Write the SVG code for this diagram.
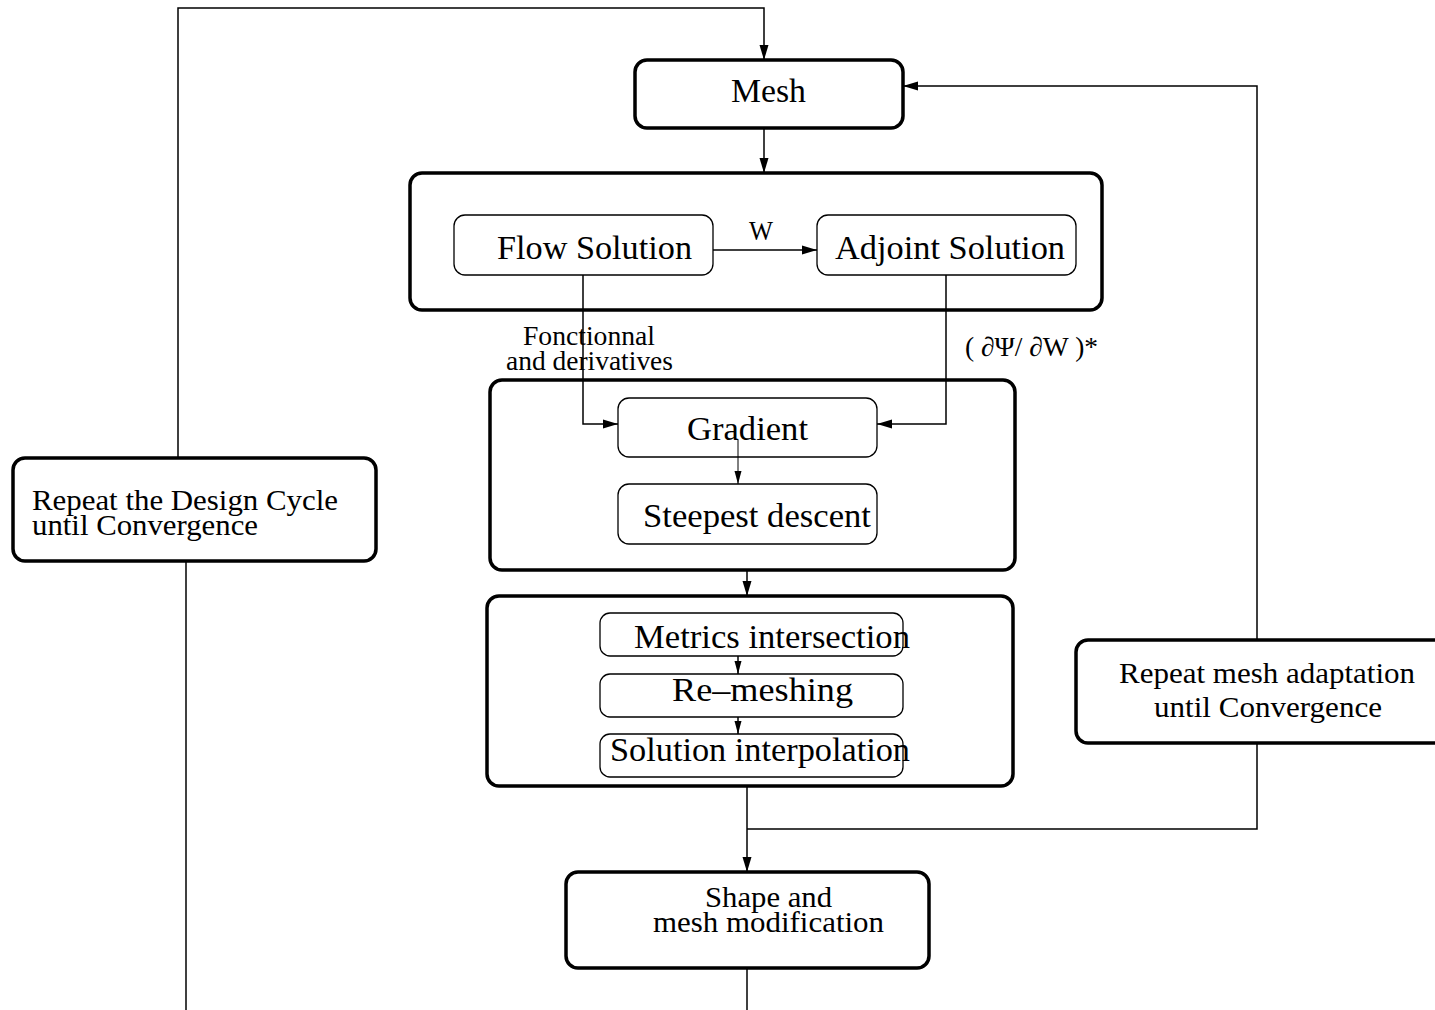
<svg xmlns="http://www.w3.org/2000/svg" width="1435" height="1010" viewBox="0 0 1435 1010">
  <style>
    .bg { fill: #ffffff; }
    .thick { fill: #ffffff; stroke: #000000; stroke-width: 3.5; }
    .thin { fill: #ffffff; stroke: #000000; stroke-width: 1.3; }
    .lbl { font-family: "Liberation Serif", "Times New Roman", serif; font-size: 33px; fill: #000000; }
    .mid { font-family: "Liberation Serif", "Times New Roman", serif; font-size: 30px; fill: #000000; }
    .small { font-family: "Liberation Serif", "Times New Roman", serif; font-size: 27px; fill: #000000; }
    .wire { fill: none; stroke: #000000; stroke-width: 1.5; }
    .wire-thin { fill: none; stroke: #000000; stroke-width: 1; }
  </style>
  <defs>
    <marker id="arrow" markerUnits="userSpaceOnUse" markerWidth="16" markerHeight="10" refX="15" refY="5" orient="auto">
      <path d="M0,0.5 L15,5 L0,9.5 Z" fill="#000000"/>
    </marker>
    <marker id="arrow-small" markerUnits="userSpaceOnUse" markerWidth="14" markerHeight="8" refX="13" refY="4" orient="auto">
      <path d="M0,0.5 L13,4 L0,7.5 Z" fill="#000000"/>
    </marker>
  </defs>
  <rect class="bg" x="0" y="0" width="1435" height="1010"/>

  <!-- process blocks -->
  <g id="mesh">
    <rect class="thick" x="635" y="60" width="268" height="68" rx="12"/>
    <text class="lbl" x="731" y="102" textLength="75" lengthAdjust="spacingAndGlyphs">Mesh</text>
  </g>

  <g id="solver-block">
    <rect class="thick" x="410" y="173" width="692" height="137" rx="12"/>
  </g>
  <g id="flow-solution">
    <rect class="thin" x="454" y="215" width="259" height="60" rx="11"/>
    <text class="lbl" x="497" y="259" textLength="195" lengthAdjust="spacingAndGlyphs">Flow Solution</text>
  </g>
  <g id="adjoint-solution">
    <rect class="thin" x="817" y="215" width="259" height="60" rx="11"/>
    <text class="lbl" x="835" y="259" textLength="230" lengthAdjust="spacingAndGlyphs">Adjoint Solution</text>
  </g>

  <g id="descent-block">
    <rect class="thick" x="490" y="380" width="525" height="190" rx="12"/>
  </g>
  <g id="gradient">
    <rect class="thin" x="618" y="398" width="259" height="59" rx="11"/>
    <text class="lbl" x="687" y="440" textLength="121" lengthAdjust="spacingAndGlyphs">Gradient</text>
  </g>
  <g id="steepest-descent">
    <rect class="thin" x="618" y="484" width="259" height="60" rx="11"/>
    <text class="lbl" x="643" y="527" textLength="228" lengthAdjust="spacingAndGlyphs">Steepest descent</text>
  </g>

  <g id="adaptation-block">
    <rect class="thick" x="487" y="596" width="526" height="190" rx="12"/>
  </g>
  <g id="metrics-intersection">
    <rect class="thin" x="600" y="613" width="303" height="43" rx="10"/>
    <text class="lbl" x="634" y="648" textLength="276" lengthAdjust="spacingAndGlyphs">Metrics intersection</text>
  </g>
  <g id="re-meshing">
    <rect class="thin" x="600" y="674" width="303" height="43" rx="10"/>
    <text class="lbl" x="672" y="701" textLength="181" lengthAdjust="spacingAndGlyphs">Re–meshing</text>
  </g>
  <g id="solution-interpolation">
    <rect class="thin" x="600" y="734" width="303" height="43" rx="10"/>
    <text class="lbl" x="610" y="761" textLength="300" lengthAdjust="spacingAndGlyphs">Solution interpolation</text>
  </g>

  <g id="shape-modification">
    <rect class="thick" x="566" y="872" width="363" height="96" rx="12"/>
    <text class="mid" x="705" y="907" textLength="127" lengthAdjust="spacingAndGlyphs">Shape and</text>
    <text class="mid" x="653" y="932" textLength="231" lengthAdjust="spacingAndGlyphs">mesh modification</text>
  </g>

  <g id="design-cycle">
    <rect class="thick" x="13" y="458" width="363" height="103" rx="12"/>
    <text class="mid" x="32" y="510" textLength="306" lengthAdjust="spacingAndGlyphs">Repeat the Design Cycle</text>
    <text class="mid" x="32" y="535" textLength="226" lengthAdjust="spacingAndGlyphs">until Convergence</text>
  </g>

  <g id="adaptation-loop">
    <rect class="thick" x="1076" y="640" width="370" height="103" rx="12"/>
    <text class="mid" x="1119" y="683" textLength="296" lengthAdjust="spacingAndGlyphs">Repeat mesh adaptation</text>
    <text class="mid" x="1154" y="717" textLength="228" lengthAdjust="spacingAndGlyphs">until Convergence</text>
  </g>

  <!-- connectors and their labels -->
  <g id="connectors">
    <path class="wire" d="M178,458 V8 H764 V60" marker-end="url(#arrow)"/>
    <path class="wire" d="M186,561 V1010"/>
    <path class="wire" d="M764,128 V173" marker-end="url(#arrow)"/>
    <path class="wire" d="M713,250 H817" marker-end="url(#arrow)"/>
    <path class="wire" d="M583,275 V424 H618" marker-end="url(#arrow)"/>
    <path class="wire" d="M946,275 V424 H877" marker-end="url(#arrow)"/>
    <path class="wire-thin" d="M738,440 V484" marker-end="url(#arrow-small)"/>
    <path class="wire" d="M747,570 V596" marker-end="url(#arrow)"/>
    <path class="wire" d="M738,656 V674" marker-end="url(#arrow-small)"/>
    <path class="wire" d="M738,717 V734" marker-end="url(#arrow-small)"/>
    <path class="wire" d="M747,786 V872" marker-end="url(#arrow)"/>
    <path class="wire" d="M747,829 H1257 V743"/>
    <path class="wire" d="M1257,640 V86 H903" marker-end="url(#arrow)"/>
    <path class="wire" d="M747,968 V1010"/>

    <text class="small" x="749" y="240" textLength="24" lengthAdjust="spacingAndGlyphs">W</text>
    <text class="small" x="523" y="345" textLength="132" lengthAdjust="spacingAndGlyphs">Fonctionnal</text>
    <text class="small" x="506" y="370" textLength="167" lengthAdjust="spacingAndGlyphs">and derivatives</text>
    <text class="small" x="965" y="356" textLength="133" lengthAdjust="spacingAndGlyphs">( ∂Ψ/ ∂W )*</text>
  </g>
</svg>
